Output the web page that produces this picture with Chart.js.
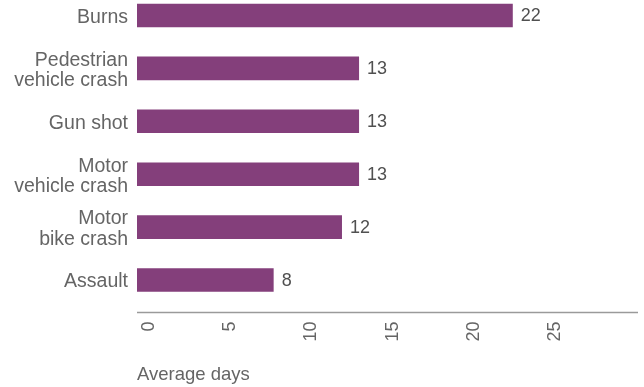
<!DOCTYPE html>
<html>
<head>
<meta charset="utf-8">
<script src="https://cdn.jsdelivr.net/npm/chart.js@4/dist/chart.umd.min.js"></script>
<style>
html, body { margin: 0; padding: 0; background: #fff; overflow: hidden; }
#wrap { position: relative; width: 644px; height: 398px; margin-top: -11px; }
</style>
</head>
<body>
<div id="wrap"><canvas id="chart" width="644" height="398"></canvas></div>
<script>
const categories = ['Burns', ['Pedestrian', 'vehicle crash'], 'Gun shot', ['Motor', 'vehicle crash'], ['Motor', 'bike crash'], 'Assault']
const averageDays = [22, 13, 13, 13, 12, 8]
const tickValues = [0, 5, 10, 15, 20, 25]
const axisTitle = 'Average days'

const BAR_COLOR = '#843f7b'
const TEXT_COLOR = '#656565'
const FONT = '"Liberation Sans", Arial, sans-serif'

// value labels just right of each bar
const valueLabels = {
    id: 'valueLabels',
    afterDatasetsDraw(chart) {
        const ctx = chart.ctx
        const meta = chart.getDatasetMeta(0)
        ctx.save()
        ctx.font = '18px ' + FONT
        ctx.fillStyle = '#505050'
        ctx.textBaseline = 'middle'
        ctx.textAlign = 'left'
        meta.data.forEach((bar, i) => {
            ctx.fillText(String(averageDays[i]), bar.x + 8, bar.y + 1)
        })
        ctx.restore()
    }
}

// x axis line sits a little below the plot area
const axisLine = {
    id: 'axisLine',
    afterDraw(chart) {
        const x = chart.scales.xLabels
        const ctx = chart.ctx
        const y = x.top + 6
        ctx.save()
        ctx.strokeStyle = '#9a9a9a'
        ctx.lineWidth = 1.5
        ctx.beginPath()
        ctx.moveTo(x.left, y)
        ctx.lineTo(x.right, y)
        ctx.stroke()
        ctx.restore()
    }
}

new Chart(document.getElementById('chart'), {
    type: 'bar',
    data: {
        labels: categories,
        datasets: [{
            data: averageDays,
            backgroundColor: BAR_COLOR,
            borderWidth: 0,
            categoryPercentage: 1,
            barPercentage: 0.445,
            xAxisID: 'x'
        }]
    },
    options: {
        indexAxis: 'y',
        responsive: false,
        animation: false,
        devicePixelRatio: 1,
        layout: { padding: { top: 0, right: 6, bottom: 0, left: 0 } },
        plugins: {
            legend: { display: false },
            tooltip: { enabled: false }
        },
        scales: {
            y: {
                grid: { display: false, drawTicks: false },
                border: { display: false },
                ticks: {
                    color: TEXT_COLOR,
                    padding: 9,
                    labelOffset: 2,
                    font: { family: FONT, size: 19.5, lineHeight: 1.03 }
                },
                afterFit(scale) {
                    scale.width = 137
                    scale.paddingTop = 0
                    scale.paddingBottom = 0
                }
            },
            // scale the bars are drawn against
            x: {
                display: false,
                min: 0,
                max: 29.33
            },
            // the printed axis: its labels run a bit tighter than the bars in the source
            xLabels: {
                position: 'bottom',
                axis: 'x',
                min: -0.74,
                max: 30.11,
                grid: { display: false, drawTicks: false },
                border: { display: false },
                afterBuildTicks(scale) {
                    scale.ticks = tickValues.map(v => ({ value: v }))
                },
                ticks: {
                    color: TEXT_COLOR,
                    minRotation: 90,
                    maxRotation: 90,
                    padding: 15,
                    font: { family: FONT, size: 18 }
                },
                title: {
                    display: true,
                    text: axisTitle,
                    align: 'start',
                    color: TEXT_COLOR,
                    padding: { top: 0, bottom: 1 },
                    font: { family: FONT, size: 18.5 }
                },
                afterFit(scale) {
                    scale.height = 80.5
                    scale.paddingLeft = 0
                    scale.paddingRight = 0
                }
            }
        }
    },
    plugins: [valueLabels, axisLine]
})
</script>
</body>
</html>
